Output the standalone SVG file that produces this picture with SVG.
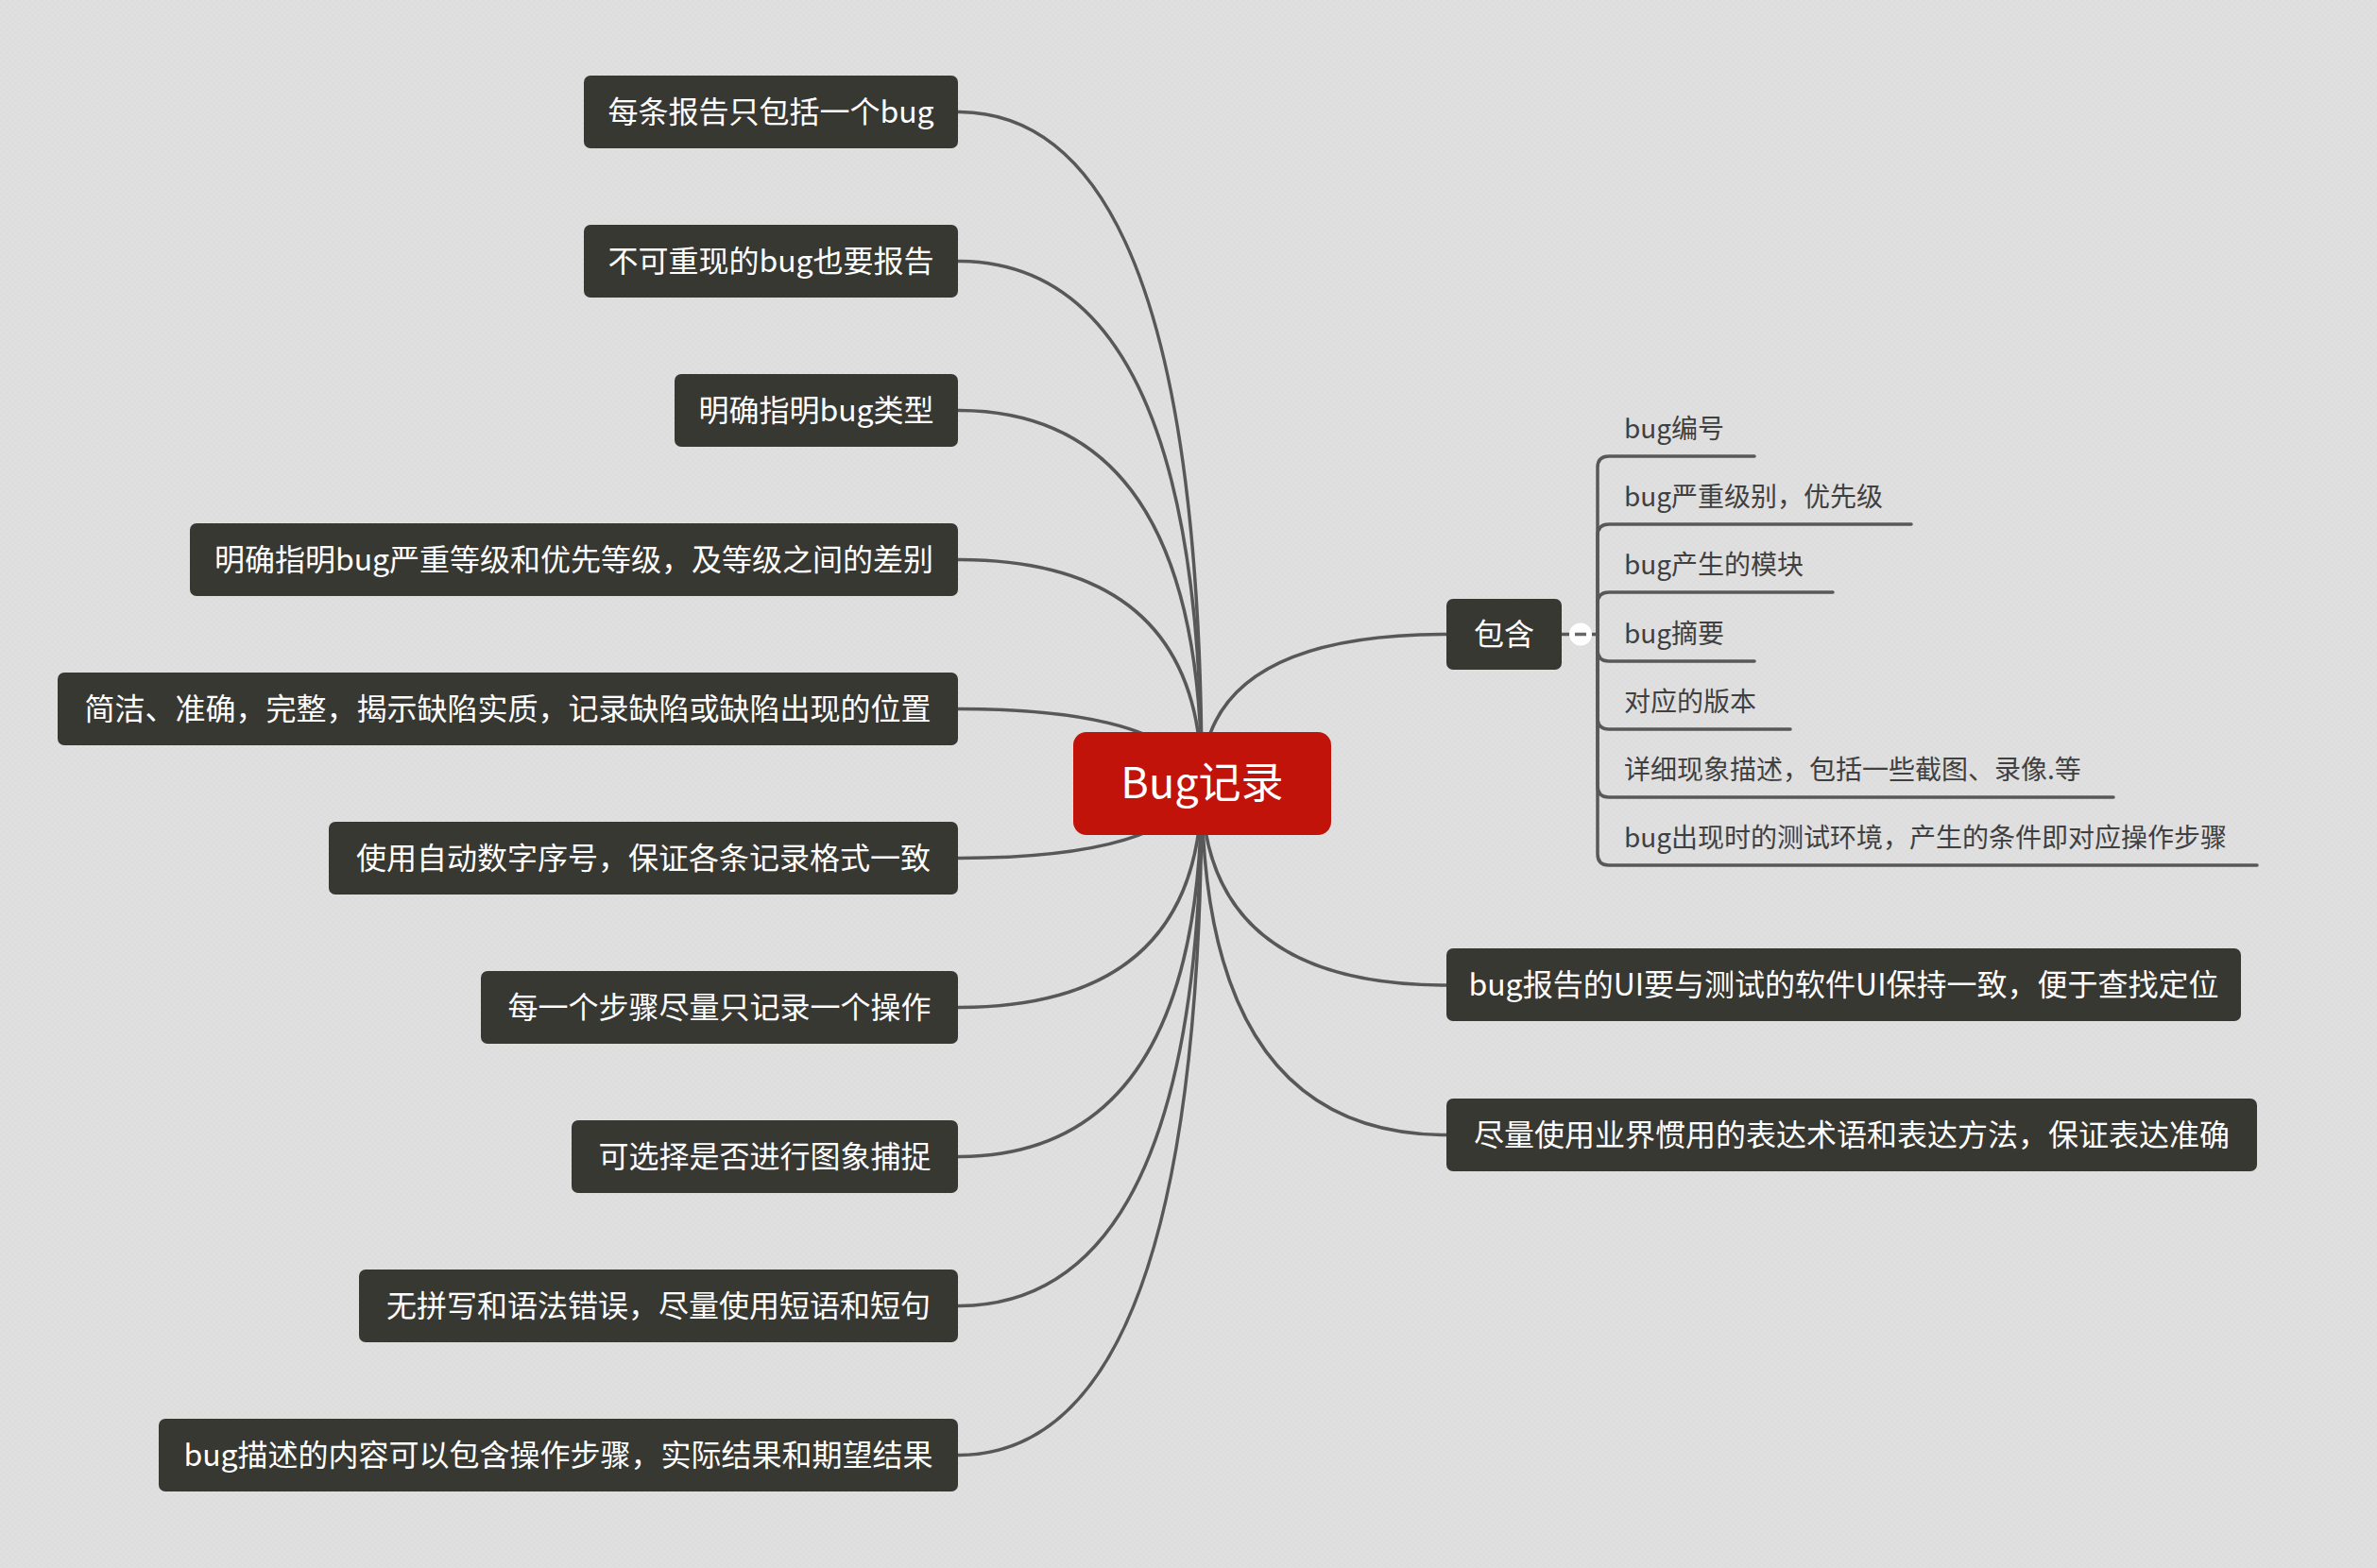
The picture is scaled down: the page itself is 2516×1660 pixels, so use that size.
<svg xmlns="http://www.w3.org/2000/svg" width="2516" height="1660" viewBox="0 0 2516 1660">
<defs>
<pattern id="bgp" width="6" height="6" patternUnits="userSpaceOnUse">
<rect width="6" height="6" fill="#e0e0e0"/>
<rect width="3" height="3" fill="#dddddd"/>
<rect x="3" y="3" width="3" height="3" fill="#dddddd"/>
</pattern>
</defs>
<style>
.box{fill:#383832;}
.t{font-family:"Noto Sans CJK SC","Noto Sans",sans-serif;font-size:32px;fill:#ffffff;text-anchor:middle;}
.root{fill:#c1130a;}
.rt{font-family:"Noto Sans CJK SC","Noto Sans",sans-serif;font-size:45px;fill:#ffffff;text-anchor:middle;}
.c{fill:none;stroke:#585858;stroke-width:3.5;stroke-linecap:round;}
.sub{font-family:"Noto Sans CJK SC","Noto Sans",sans-serif;font-size:28px;fill:#404040;}
</style>
<rect width="2516" height="1660" fill="url(#bgp)"/>
<g id="connectors">
<path class="c" d="M1272 830 Q1272 118.5 1014 118.5"/>
<path class="c" d="M1272 830 Q1272 276.5 1014 276.5"/>
<path class="c" d="M1272 830 Q1272 434.5 1014 434.5"/>
<path class="c" d="M1272 830 Q1272 592.5 1014 592.5"/>
<path class="c" d="M1272 830 Q1240 750.5 1014 750.5"/>
<path class="c" d="M1272 830 Q1240 908.5 1014 908.5"/>
<path class="c" d="M1272 830 Q1272 1066.5 1014 1066.5"/>
<path class="c" d="M1272 830 Q1272 1224.5 1014 1224.5"/>
<path class="c" d="M1272 830 Q1272 1382.5 1014 1382.5"/>
<path class="c" d="M1272 830 Q1272 1540.5 1014 1540.5"/>
<path class="c" d="M1272 830 Q1272 671.5 1531 671.5"/>
<path class="c" d="M1272 830 Q1272 1043 1531 1043"/>
<path class="c" d="M1272 830 Q1272 1201.5 1531 1201.5"/>
<path class="c" d="M1653 671.5 L1691 671.5"/>
<path class="c" d="M1691 671.5 L1691 495 Q1691 483 1703 483 L1857 483"/>
<path class="c" d="M1691 671.5 L1691 567 Q1691 555 1703 555 L2023 555"/>
<path class="c" d="M1691 671.5 L1691 639 Q1691 627 1703 627 L1940 627"/>
<path class="c" d="M1691 671.5 L1691 688 Q1691 700 1703 700 L1857 700"/>
<path class="c" d="M1691 671.5 L1691 760 Q1691 772 1703 772 L1895 772"/>
<path class="c" d="M1691 671.5 L1691 832 Q1691 844 1703 844 L2237 844"/>
<path class="c" d="M1691 671.5 L1691 904 Q1691 916 1703 916 L2389 916"/>
</g>
<g id="root">
<rect class="root" x="1136" y="775" width="273" height="109" rx="14"/>
<text class="rt" x="1272.5" y="845">Bug记录</text>
</g>
<g id="n1"><rect class="box" x="618" y="80" width="396" height="77" rx="7"/><text class="t" x="816" y="129.5">每条报告只包括一个bug</text></g>
<g id="n2"><rect class="box" x="618" y="238" width="396" height="77" rx="7"/><text class="t" x="816" y="287.5">不可重现的bug也要报告</text></g>
<g id="n3"><rect class="box" x="714" y="396" width="300" height="77" rx="7"/><text class="t" x="864" y="445.5">明确指明bug类型</text></g>
<g id="n4"><rect class="box" x="201" y="554" width="813" height="77" rx="7"/><text class="t" x="607.5" y="603.5">明确指明bug严重等级和优先等级，及等级之间的差别</text></g>
<g id="n5"><rect class="box" x="61" y="712" width="953" height="77" rx="7"/><text class="t" x="537.5" y="761.5">简洁、准确，完整，揭示缺陷实质，记录缺陷或缺陷出现的位置</text></g>
<g id="n6"><rect class="box" x="348" y="870" width="666" height="77" rx="7"/><text class="t" x="681" y="919.5">使用自动数字序号，保证各条记录格式一致</text></g>
<g id="n7"><rect class="box" x="509" y="1028" width="505" height="77" rx="7"/><text class="t" x="761.5" y="1077.5">每一个步骤尽量只记录一个操作</text></g>
<g id="n8"><rect class="box" x="605" y="1186" width="409" height="77" rx="7"/><text class="t" x="809.5" y="1235.5">可选择是否进行图象捕捉</text></g>
<g id="n9"><rect class="box" x="380" y="1344" width="634" height="77" rx="7"/><text class="t" x="697" y="1393.5">无拼写和语法错误，尽量使用短语和短句</text></g>
<g id="n10"><rect class="box" x="168" y="1502" width="846" height="77" rx="7"/><text class="t" x="591" y="1551.5">bug描述的内容可以包含操作步骤，实际结果和期望结果</text></g>
<g id="n11"><rect class="box" x="1531" y="634" width="122" height="75" rx="7"/><text class="t" x="1592" y="682.5">包含</text></g>
<g id="toggle"><circle cx="1673" cy="671.5" r="12" fill="#ffffff"/><line x1="1667" y1="671.5" x2="1679" y2="671.5" stroke="#666666" stroke-width="3.5"/></g>
<g id="s1"><text class="sub" x="1719" y="464">bug编号</text></g>
<g id="s2"><text class="sub" x="1719" y="536">bug严重级别，优先级</text></g>
<g id="s3"><text class="sub" x="1719" y="608">bug产生的模块</text></g>
<g id="s4"><text class="sub" x="1719" y="681">bug摘要</text></g>
<g id="s5"><text class="sub" x="1719" y="753">对应的版本</text></g>
<g id="s6"><text class="sub" x="1719" y="825">详细现象描述，包括一些截图、录像.等</text></g>
<g id="s7"><text class="sub" x="1719" y="897">bug出现时的测试环境，产生的条件即对应操作步骤</text></g>
<g id="n12"><rect class="box" x="1531" y="1004" width="841" height="77" rx="7"/><text class="t" x="1951.5" y="1053.5">bug报告的UI要与测试的软件UI保持一致，便于查找定位</text></g>
<g id="n13"><rect class="box" x="1531" y="1163" width="858" height="77" rx="7"/><text class="t" x="1960" y="1212.5">尽量使用业界惯用的表达术语和表达方法，保证表达准确</text></g>
</svg>
